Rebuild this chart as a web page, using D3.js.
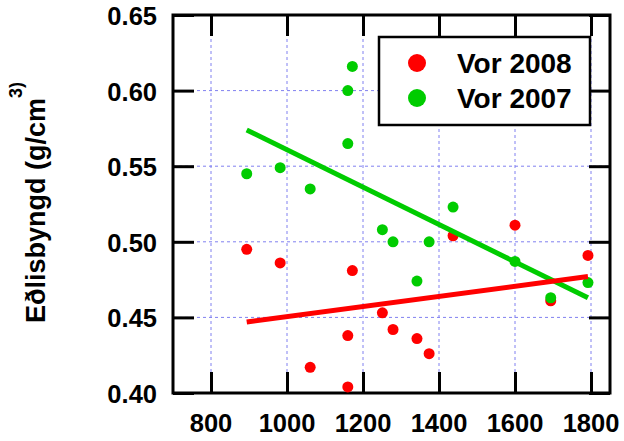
<!DOCTYPE html>
<html>
<head>
<meta charset="utf-8">
<script src="https://cdn.jsdelivr.net/npm/d3@7"></script>
<style>
  body { margin: 0; background: #fff; }
  text { font-family: "Liberation Sans", Arial, sans-serif; font-weight: bold; }
</style>
</head>
<body>
<script>
// Data
let xVals = [894, 982, 1061, 1160, 1160, 1172, 1251, 1279, 1342, 1374, 1437, 1600, 1694, 1792]
let vor2008 = [0.495, 0.486, 0.417, 0.404, 0.438, 0.481, 0.453, 0.442, 0.436, 0.426, 0.504, 0.511, 0.461, 0.491]
let vor2007 = [0.545, 0.549, 0.535, 0.565, 0.600, 0.616, 0.508, 0.500, 0.474, 0.500, 0.523, 0.487, 0.463, 0.473]
let trendX = [894, 1792]
let trend2008 = [0.447, 0.477]
let trend2007 = [0.574, 0.463]
let xTicks = [800, 1000, 1200, 1400, 1600, 1800]
let yTicks = [0.40, 0.45, 0.50, 0.55, 0.60, 0.65]
let seriesNames = ["Vor 2008", "Vor 2007"]
let seriesColors = ["#ff0000", "#00cc00"]

let width = 624, height = 441
let mLeft = 173, mRight = 610, mTop = 15, mBottom = 393

let svg = d3.select("body")
        .append("svg")
        .attr("width", width)
        .attr("height", height)

let x = d3.scaleLinear().domain([700, 1850]).range([mLeft, mRight])
let y = d3.scaleLinear().domain([0.40, 0.65]).range([mBottom, mTop])

// grid
let grid = svg.append("g")
        .attr("stroke", "#8080f0")
        .attr("stroke-width", 1)
        .attr("stroke-dasharray", "3,3")
grid.selectAll(".gx").data(xTicks).join("line")
        .attr("x1", d => x(d)).attr("x2", d => x(d))
        .attr("y1", mTop).attr("y2", mBottom)
grid.selectAll(".gy").data(yTicks).join("line")
        .attr("y1", d => y(d)).attr("y2", d => y(d))
        .attr("x1", mLeft).attr("x2", mRight)

// axes with inward ticks on all sides
let fmt = d3.format(".2f")
svg.append("g").attr("transform", `translate(${mLeft},0)`)
        .call(d3.axisRight(y).tickValues(yTicks).tickSize(21).tickFormat(""))
svg.append("g").attr("transform", `translate(${mRight},0)`)
        .call(d3.axisLeft(y).tickValues(yTicks).tickSize(21).tickFormat(""))
svg.append("g").attr("transform", `translate(0,${mBottom})`)
        .call(d3.axisTop(x).tickValues(xTicks).tickSize(21).tickFormat(""))
svg.append("g").attr("transform", `translate(0,${mTop})`)
        .call(d3.axisBottom(x).tickValues(xTicks).tickSize(21).tickFormat(""))
svg.selectAll(".domain").remove()
svg.selectAll(".tick line").attr("stroke", "#000").attr("stroke-width", 3)

svg.append("rect")
        .attr("x", mLeft).attr("y", mTop)
        .attr("width", mRight - mLeft).attr("height", mBottom - mTop)
        .attr("fill", "none").attr("stroke", "#000").attr("stroke-width", 3)

// tick labels
svg.append("g").selectAll("text").data(yTicks).join("text")
        .attr("x", 157).attr("y", d => y(d) + 1)
        .attr("text-anchor", "end").attr("dominant-baseline", "central")
        .attr("font-size", 25.5)
        .text(d => fmt(d))
svg.append("g").selectAll("text").data(xTicks).join("text")
        .attr("x", d => x(d)).attr("y", 432)
        .attr("text-anchor", "middle")
        .attr("font-size", 25.5)
        .text(d => d)

// y title
let title = svg.append("text")
        .attr("transform", "translate(45,323) rotate(-90)")
        .attr("font-size", 27)
title.append("tspan").text("Eðlisbyngd (g/cm")
title.append("tspan").attr("dy", -23).attr("font-size", 18).text("3)")

// points
let series = [vor2008, vor2007]
series.forEach((vals, i) => {
    svg.append("g").selectAll("circle").data(vals).join("circle")
        .attr("cx", (d, j) => x(xVals[j]))
        .attr("cy", d => y(d))
        .attr("r", 5.5)
        .attr("fill", seriesColors[i])
})

// trend lines
let line = d3.line().x((d, j) => x(trendX[j])).y(d => y(d))
svg.append("path").datum(trend2007).attr("d", line)
        .attr("stroke", seriesColors[1]).attr("stroke-width", 5).attr("fill", "none")
svg.append("path").datum(trend2008).attr("d", line)
        .attr("stroke", seriesColors[0]).attr("stroke-width", 5).attr("fill", "none")

// legend
let legend = svg.append("g")
legend.append("rect")
        .attr("x", 379).attr("y", 37).attr("width", 211).attr("height", 88)
        .attr("fill", "#fff").attr("stroke", "#000").attr("stroke-width", 2.5)
let items = legend.selectAll(".item").data(seriesNames).join("g")
        .attr("transform", (d, i) => `translate(0,${63 + i * 35})`)
items.append("circle").attr("cx", 417).attr("r", 9)
        .attr("fill", (d, i) => seriesColors[i])
items.append("text").attr("x", 457).attr("y", 10)
        .attr("font-size", 28)
        .text(d => d)
</script>
</body>
</html>
